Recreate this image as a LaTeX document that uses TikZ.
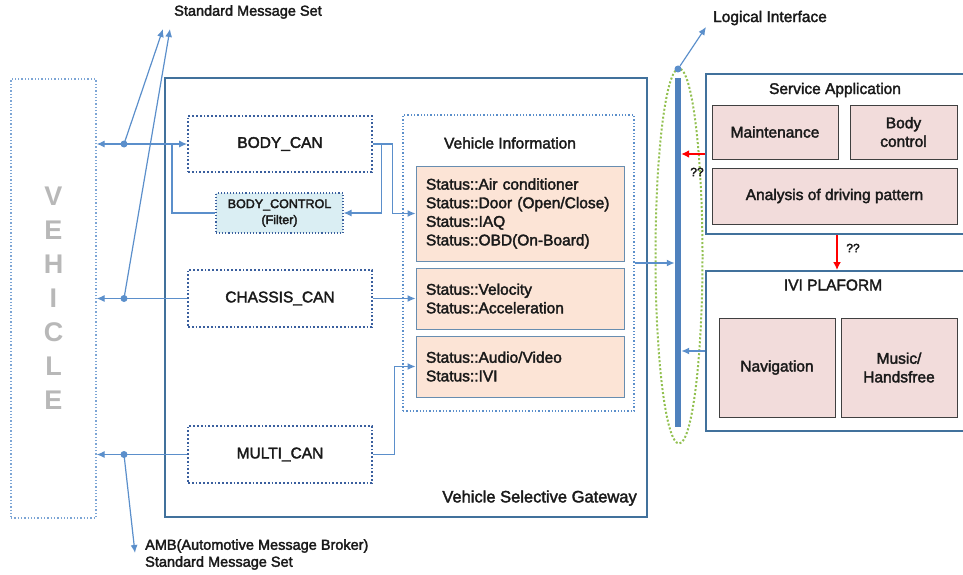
\documentclass[tikz,border=0pt]{standalone}
\usepackage{fontspec}
\setmainfont{Liberation Sans}
\usetikzlibrary{arrows.meta,calc,shapes.geometric}
\newcommand{\heavytext}{\special{pdf:literal direct 2 Tr 0.35 w}}
\definecolor{lineblue}{HTML}{5B8FCB}
\definecolor{dotblue}{HTML}{3A5F9E}
\definecolor{frameblue}{HTML}{41719C}
\definecolor{barblue}{HTML}{4F81BD}
\definecolor{peach}{HTML}{FCE4D6}
\definecolor{rosy}{HTML}{F2DCDB}
\definecolor{lightcyan}{HTML}{DAEEF3}
\definecolor{dotgreen}{HTML}{92C050}
\definecolor{txt}{HTML}{1A1A1A}
\tikzset{
  x=1pt,y=-1pt,
  every node/.style={text=txt, font=\fontsize{15.5}{18.6}\selectfont\heavytext},
  conn/.style={draw=lineblue, line width=1.2pt},
  arr/.style={conn, -{Latex[length=8pt,width=7pt]}},
  darr/.style={conn, {Latex[length=8pt,width=7pt]}-{Latex[length=8pt,width=7pt]}},
  canbox/.style={draw=dotblue, dotted, line width=1.8pt, inner sep=0pt, minimum width=184pt, minimum height=56pt},
  statbox/.style={draw=frameblue!80, line width=0.9pt, fill=peach, inner sep=0pt, minimum width=208pt, text width=188pt, align=left},
  appbox/.style={draw=black!75, line width=0.9pt, fill=rosy, inner sep=0pt, align=center},
  frame/.style={draw=frameblue, line width=2pt, inner sep=0pt},
  dotn/.style={circle, fill=lineblue, inner sep=0pt, minimum size=7pt},
  lbl/.style={inner sep=0pt},
}
\begin{document}
\begin{tikzpicture}
\useasboundingbox (0,0) rectangle (963,575);
% vehicle
\node[draw=lineblue!80, dotted, line width=1.3pt, minimum width=85pt, minimum height=439pt, inner sep=0pt,
      font=\fontsize{27}{34}\selectfont\bfseries, text=black!28, align=center] (veh) at (53.5,298.5)
      {V\\E\\H\\I\\C\\L\\E};
% gateway
\node[frame, minimum width=482pt, minimum height=439pt] (gw) at (406,297.5) {};
\node[lbl, anchor=south east, font=\fontsize{16.5}{19}\selectfont\heavytext] (gwl) at (637,506) {Vehicle Selective Gateway};
% CAN boxes
\node[canbox] (bodycan) at (280,144) {BODY\_CAN};
\node[draw=dotblue, dotted, line width=1.1pt, fill=lightcyan, minimum width=127pt, minimum height=40pt, inner sep=0pt,
      align=center, font=\fontsize{12.5}{16}\selectfont\heavytext] (bodyctl) at (279.5,213) {BODY\_CONTROL\\(Filter)};
\node[canbox, minimum height=57pt] (chassis) at (280,298.5) {CHASSIS\_CAN};
\node[canbox, minimum height=57pt] (multi) at (280,454.5) {MULTI\_CAN};
% vehicle information
\node[draw=lineblue, dotted, line width=1.3pt, minimum width=231pt, minimum height=296pt, inner sep=0pt] (vinfo) at (518.5,263) {};
\node[lbl] (vinfol) at (510,143) {Vehicle Information};
\node[statbox, minimum height=95pt] (st1) at (520,213.5)
  {Status::Air conditioner\\Status::Door (Open/Close)\\Status::IAQ\\Status::OBD(On-Board)};
\node[statbox, minimum height=61pt] (st2) at (520,298.5) {Status::Velocity\\Status::Acceleration};
\node[statbox, minimum height=61pt] (st3) at (520,366.5) {Status::Audio/Video\\Status::IVI};
% logical interface
\node[draw=dotgreen, dotted, line width=2pt, ellipse, minimum width=47pt, minimum height=375pt, inner sep=0pt] (li) at (679,256) {};
\node[fill=barblue, minimum width=6pt, minimum height=349pt, inner sep=0pt] (bar) at (678,252.5) {};
\node[dotn] (lid) at (678,69) {};
\coordinate (lia) at (706,27);
\node[lbl] (lil) at (770,18) {Logical Interface};
\draw[arr] (lid) -- (lia);
% service application
\node[frame, minimum width=269pt, minimum height=160pt] (svc) at (840.5,154) {};
\node[lbl] (svcl) at (835,90) {Service Application};
\node[appbox, minimum width=126pt, minimum height=54pt] (maint) at (775,132) {Maintenance};
\node[appbox, minimum width=107pt, minimum height=54pt] (bodyc) at (903.5,132) {Body\\control};
\node[appbox, minimum width=245pt, minimum height=56pt] (anal) at (834.5,196) {Analysis of driving pattern};
% IVI platform
\node[frame, minimum width=269pt, minimum height=160pt] (ivi) at (840.5,351) {};
\node[lbl] (ivil) at (833,285) {IVI PLAFORM};
\node[appbox, minimum width=116pt, minimum height=99pt] (nav) at (777,367.5) {Navigation};
\node[appbox, minimum width=116pt, minimum height=99pt] (music) at (899,367.5) {Music/\\Handsfree};
% red links
\draw[draw=red, line width=2pt, -{Latex[length=8pt,width=8pt]}] (svc.west) -- (bar.east |- svc.west);
\node[lbl, font=\fontsize{12}{14}\selectfont\heavytext] (q1) at (697,172) {??};
\draw[draw=red, line width=2pt, -{Latex[length=8pt,width=8pt]}] ($(svc.south)+(-3.5,0)$) -- ($(ivi.north)+(-3.5,0)$);
\node[lbl, font=\fontsize{12}{14}\selectfont\heavytext] (q2) at (853,248) {??};
% blue links to bar
\draw[arr, line width=2pt] (vinfo.east) -- (bar.west |- vinfo.east);
\draw[arr, line width=2pt] (ivi.west) -- (bar.east |- ivi.west);
% left side links
\node[lbl, font=\fontsize{14.5}{17}\selectfont\heavytext] (sms) at (248,12) {Standard Message Set};
\coordinate (sa1) at (163,29);
\coordinate (sa2) at (170,29);
\node[dotn] (d1) at (124,144) {};
\node[dotn] (d2) at (124,298.5) {};
\node[dotn] (d3) at (124,454.5) {};
\draw[darr] (veh.east |- bodycan.west) -- (bodycan.west);
\draw[arr] (chassis.west) -- (veh.east |- chassis.west);
\draw[arr] (multi.west) -- (veh.east |- multi.west);
\draw[arr] (d1.center) -- (sa1);
\draw[arr] (d2.center) -- (sa2);
\coordinate (ambA) at (135,553);
\draw[arr] (d3.center) -- (ambA);
\node[lbl, anchor=west, align=left, font=\fontsize{14.5}{17}\selectfont\heavytext] (amb) at (145,554.5) {AMB(Automotive Message Broker)\\Standard Message Set};
% body can to body control and status
\coordinate (j1) at (172,144);
\draw[conn] (j1) |- (bodyctl.west);
\draw[arr] (bodycan.east) -| ($(bodyctl.east)+(38,0)$) -- (bodyctl.east);
\draw[arr] (bodycan.east) -| ($(st1.west)+(-23,0)$) -- (st1.west);
\draw[arr] (chassis.east) -- (st2.west);
\draw[arr] (multi.east) -| ($(st3.west)+(-21,0)$) -- (st3.west);
\end{tikzpicture}
\end{document}
